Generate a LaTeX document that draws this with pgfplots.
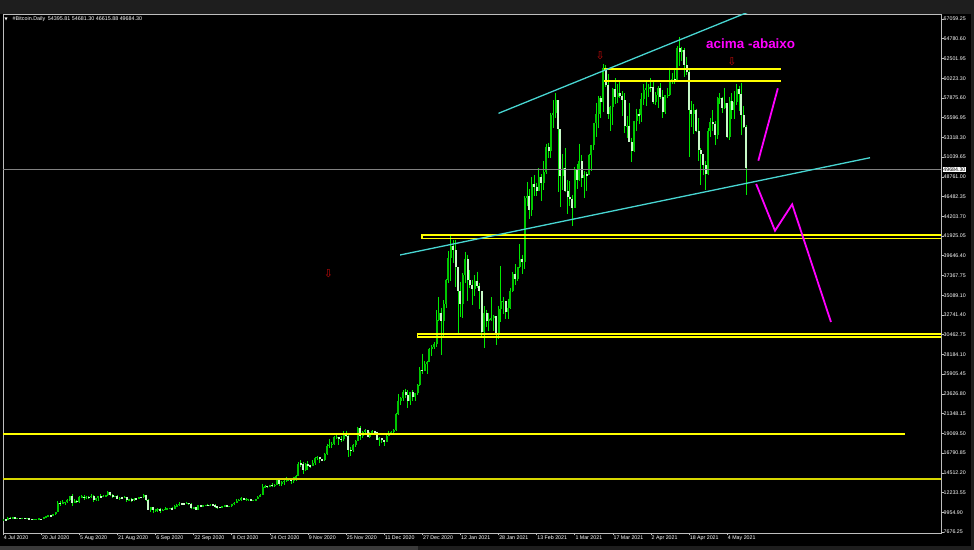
\documentclass[border=0pt]{standalone}
\usepackage{fontspec}
\setmainfont{Liberation Sans}
\newfontfamily\dejavu{DejaVu Sans}
\usepackage{pgfplots}
\usepackage{pgfplotstable}
\pgfplotsset{compat=1.18}

\definecolor{bgdark}{RGB}{30,30,30}
\definecolor{scroll}{RGB}{58,58,58}
\definecolor{framegray}{RGB}{190,190,190}
\definecolor{wick}{RGB}{0,235,0}
\definecolor{bull}{RGB}{0,200,0}
\definecolor{bear}{RGB}{200,250,200}
\definecolor{turq}{RGB}{72,214,210}
\definecolor{ylw}{RGB}{255,255,0}
\definecolor{ylwdark}{RGB}{215,215,0}
\definecolor{mag}{RGB}{255,0,255}
\definecolor{arrowred}{RGB}{190,10,10}
\definecolor{pricegray}{RGB}{130,130,130}

% daily OHLC, thousands of USD, day 0 = 4 Jul 2020
\pgfplotstableread{
o h l c
9.07 9.19 9.05 9.13
9.13 9.14 8.98 9.08
9.08 9.36 9.06 9.34
9.34 9.36 9.22 9.25
9.25 9.46 9.24 9.43
9.43 9.44 9.15 9.23
9.23 9.31 9.13 9.29
9.29 9.30 9.20 9.24
9.24 9.34 9.18 9.30
9.30 9.34 9.20 9.24
9.24 9.28 9.13 9.25
9.25 9.27 9.18 9.20
9.20 9.21 9.09 9.13
9.13 9.18 9.09 9.15
9.15 9.19 9.12 9.17
9.17 9.24 9.11 9.21
9.21 9.22 9.13 9.16
9.16 9.42 9.15 9.39
9.39 9.54 9.27 9.53
9.53 9.65 9.47 9.61
9.61 9.64 9.50 9.55
9.55 9.73 9.54 9.71
9.71 10.04 9.69 9.93
9.93 11.24 9.93 11.03
11.03 11.20 10.64 10.94
10.94 11.34 10.86 11.10
11.10 11.17 10.84 11.11
11.11 11.45 10.98 11.35
11.35 11.86 11.23 11.80
11.80 12.03 10.65 11.07
11.07 11.47 11.01 11.23
11.23 11.40 11.01 11.19
11.19 11.78 11.08 11.74
11.74 11.90 11.60 11.77
11.77 11.91 11.39 11.60
11.60 11.80 11.54 11.75
11.75 11.81 11.53 11.68
11.68 12.07 11.66 11.88
11.88 11.93 11.15 11.41
11.41 11.65 11.24 11.58
11.58 11.80 11.28 11.78
11.78 12.01 11.69 11.77
11.77 11.98 11.70 11.86
11.86 11.93 11.69 11.91
11.91 12.36 11.81 12.25
12.25 12.30 11.86 11.99
11.99 12.03 11.58 11.76
11.76 11.89 11.68 11.88
11.88 11.90 11.48 11.50
11.50 11.69 11.37 11.66
11.66 11.72 11.53 11.65
11.65 11.81 11.60 11.75
11.75 11.76 11.17 11.32
11.32 11.53 11.29 11.46
11.46 11.57 11.19 11.32
11.32 11.55 11.30 11.54
11.54 11.58 11.44 11.50
11.50 11.72 11.48 11.71
11.71 11.76 11.60 11.68
11.68 12.07 11.58 11.97
11.97 11.99 11.21 11.41
11.41 11.46 10.18 10.25
10.25 10.61 9.98 10.51
10.51 10.57 9.88 10.17
10.17 10.35 10.03 10.28
10.28 10.40 9.94 10.37
10.37 10.44 9.89 10.13
10.13 10.35 10.08 10.24
10.24 10.51 10.22 10.36
10.36 10.41 10.20 10.40
10.40 10.48 10.36 10.44
10.44 10.58 10.22 10.33
10.33 10.80 10.28 10.68
10.68 10.94 10.63 10.79
10.79 11.10 10.69 10.95
10.95 11.04 10.75 10.94
10.94 11.03 10.82 10.93
10.93 11.18 10.89 11.08
11.08 11.08 10.81 10.92
10.92 10.99 10.37 10.42
10.42 10.57 10.36 10.54
10.54 10.55 10.17 10.24
10.24 10.77 10.23 10.74
10.74 10.76 10.58 10.69
10.69 10.79 10.67 10.73
10.73 10.80 10.64 10.77
10.77 10.95 10.65 10.71
10.71 10.86 10.67 10.84
10.84 10.85 10.70 10.78
10.78 10.90 10.44 10.62
10.62 10.63 10.37 10.57
10.57 10.60 10.50 10.55
10.55 10.69 10.52 10.67
10.67 10.80 10.64 10.79
10.79 10.80 10.53 10.60
10.60 10.68 10.57 10.67
10.67 10.94 10.53 10.92
10.92 11.10 10.84 11.06
11.06 11.48 11.05 11.30
11.30 11.44 11.28 11.38
11.38 11.70 11.21 11.56
11.56 11.56 11.32 11.43
11.43 11.55 11.30 11.43
11.43 11.54 11.27 11.50
11.50 11.54 11.22 11.32
11.32 11.39 11.30 11.36
11.36 11.49 11.35 11.48
11.48 11.80 11.45 11.74
11.74 12.01 11.70 11.92
11.92 13.18 11.90 12.82
12.82 13.16 12.72 12.97
12.97 13.02 12.75 12.93
12.93 13.15 12.89 13.11
13.11 13.33 12.91 13.03
13.03 13.23 12.82 13.07
13.07 13.76 13.06 13.65
13.65 13.86 12.95 13.27
13.27 13.61 12.98 13.46
13.46 13.68 13.13 13.56
13.56 14.07 13.45 13.80
13.80 13.87 13.62 13.76
13.76 13.82 13.24 13.55
13.55 14.07 13.29 14.03
14.03 14.24 13.53 14.13
14.13 15.74 14.10 15.58
15.58 15.96 15.20 15.57
15.57 15.76 14.42 14.83
14.83 15.65 14.72 15.48
15.48 15.82 14.83 15.33
15.33 15.46 15.07 15.31
15.31 15.94 15.28 15.70
15.70 16.32 15.44 16.28
16.28 16.46 15.99 16.32
16.32 16.33 15.69 16.07
16.07 16.14 15.87 15.96
15.96 16.85 15.93 16.72
16.72 17.80 16.56 17.65
17.65 18.39 17.33 17.78
17.78 18.11 17.41 17.82
17.82 18.79 17.76 18.62
18.62 18.94 18.36 18.68
18.68 18.70 17.68 18.37
18.37 18.77 18.02 18.36
18.36 19.35 18.13 19.11
19.11 19.39 18.59 18.73
18.73 18.92 16.33 17.15
17.15 17.44 16.45 17.14
17.14 17.85 16.89 17.72
17.72 18.28 17.54 18.18
18.18 19.75 18.17 19.63
19.63 19.92 18.32 18.80
18.80 19.31 18.52 19.22
19.22 19.57 18.93 19.45
19.45 19.51 18.63 18.70
18.70 19.17 18.57 19.15
19.15 19.41 18.92 19.36
19.36 19.39 18.90 19.17
19.17 19.28 18.25 18.32
18.32 18.63 17.66 18.55
18.55 18.56 17.96 18.26
18.26 18.27 17.62 18.04
18.04 18.92 18.03 18.80
18.80 19.38 18.73 19.14
19.14 19.30 19.00 19.25
19.25 19.52 19.08 19.44
19.44 21.46 19.30 21.31
21.31 23.64 21.23 22.80
22.80 23.24 22.37 23.14
23.14 24.09 22.80 23.87
23.87 24.23 23.11 23.48
23.48 24.10 22.02 22.75
22.75 23.82 22.40 23.82
23.82 24.06 22.75 23.24
23.24 23.77 22.75 23.73
23.73 24.75 23.45 24.71
24.71 26.72 24.52 26.44
26.44 28.29 25.92 26.27
26.27 27.39 26.23 27.08
27.08 27.37 25.92 27.36
27.36 28.94 27.36 28.84
28.84 29.30 28.04 29.00
29.00 29.60 28.80 29.37
29.37 33.30 29.00 32.13
32.13 34.78 32.05 33.00
33.00 33.60 28.13 31.99
31.99 34.44 30.22 33.99
33.99 36.88 33.51 36.82
36.82 40.18 36.46 39.37
39.37 41.95 36.64 40.67
40.67 41.38 38.72 40.24
40.24 41.42 35.98 38.24
38.24 38.26 30.42 35.54
35.54 36.57 32.53 34.01
34.01 37.60 32.43 37.39
37.39 40.05 36.40 39.15
39.15 39.70 34.41 36.82
36.82 37.90 35.82 36.18
36.18 36.81 33.85 35.79
35.79 37.30 34.88 36.63
36.63 37.75 35.87 36.07
36.07 36.40 33.40 35.54
35.54 35.55 30.07 30.82
30.82 33.80 28.95 33.01
33.01 33.36 31.39 32.10
32.10 32.94 30.90 32.29
32.29 34.80 32.06 32.37
32.37 32.79 30.84 32.57
32.57 32.57 29.24 30.43
30.43 33.78 30.02 33.47
33.47 38.40 31.97 34.32
34.32 34.83 32.81 34.32
34.32 34.36 32.30 33.11
33.11 34.64 32.30 33.54
33.54 35.90 33.43 35.51
35.51 37.66 35.39 37.47
37.47 38.59 36.16 36.93
36.93 38.23 36.67 38.30
38.30 40.95 38.22 39.24
39.24 39.70 37.45 38.90
38.90 46.50 38.05 46.20
46.20 48.12 45.35 46.48
46.48 47.25 43.82 44.92
44.92 48.63 44.13 47.91
47.91 48.88 46.44 47.50
47.50 48.03 46.47 47.11
47.11 49.71 47.05 48.72
48.72 49.00 45.91 47.94
47.94 50.55 47.20 49.20
49.20 52.52 48.99 52.15
52.15 52.55 50.90 51.68
51.68 56.10 50.88 55.89
55.89 57.51 54.31 56.10
56.10 58.35 55.52 57.54
57.54 57.54 46.97 54.21
54.21 54.21 45.16 48.82
48.82 51.29 47.21 49.71
49.71 52.04 46.91 47.08
47.08 48.37 44.45 46.34
46.34 48.25 45.32 46.19
46.19 46.60 43.02 45.14
45.14 49.78 45.12 49.63
49.63 50.13 47.27 48.38
48.38 52.53 48.27 50.54
50.54 51.27 47.52 48.56
48.56 49.39 46.30 48.93
48.93 49.20 47.11 48.91
48.91 51.38 48.92 51.21
51.21 52.40 49.35 52.38
52.38 54.90 51.82 54.88
54.88 57.26 53.29 55.97
55.97 58.05 54.33 57.80
57.80 58.07 55.51 57.33
57.33 61.68 56.19 61.24
61.24 61.60 59.07 59.34
59.34 60.54 55.41 55.91
55.91 56.93 53.95 56.80
56.80 58.96 54.64 58.87
58.87 60.07 57.07 57.86
57.86 59.47 57.17 58.35
58.35 59.88 57.83 58.07
58.07 58.55 55.77 57.56
57.56 58.37 53.78 54.53
54.53 55.74 53.16 54.57
54.57 57.17 52.66 52.69
52.69 53.23 50.43 51.70
51.70 55.14 51.60 55.14
55.14 56.57 53.98 55.98
55.98 56.56 54.74 55.78
55.78 58.36 55.00 57.63
57.63 59.37 57.02 58.77
58.77 59.80 56.87 58.92
58.92 59.46 57.94 59.10
59.10 60.11 58.53 59.04
59.04 59.80 57.08 57.35
57.35 58.49 56.96 58.18
58.18 59.13 56.70 59.00
59.00 59.48 57.64 57.96
57.96 58.67 55.49 56.18
56.18 58.14 55.97 58.12
58.12 58.94 57.77 58.17
58.17 61.30 58.07 59.69
59.69 60.69 59.40 60.00
60.00 61.20 59.43 59.79
59.79 63.76 59.79 63.54
63.54 64.86 61.55 63.10
63.10 63.73 62.09 63.31
63.31 63.59 60.22 61.57
61.57 62.57 60.46 60.80
60.80 61.11 50.93 56.45
56.45 57.47 54.49 55.98
55.98 57.07 53.66 56.44
56.44 56.58 53.88 54.03
54.03 55.49 50.58 51.74
51.74 52.00 47.76 51.31
51.31 51.34 48.88 50.10
50.10 50.47 47.16 49.01
49.01 54.33 48.88 54.02
54.02 55.44 53.33 55.03
55.03 56.39 54.02 54.82
54.82 55.17 52.38 53.57
53.57 57.92 53.11 57.75
57.75 58.40 57.05 57.83
57.83 57.91 56.07 56.63
56.63 58.95 56.48 57.21
57.21 57.21 53.21 53.24
53.24 57.91 52.97 57.47
57.47 58.36 55.38 56.43
56.43 58.62 55.38 57.37
57.37 59.46 56.97 58.84
58.84 59.21 56.33 58.23
58.23 59.58 53.51 55.86
55.86 56.87 54.37 54.40
54.40 54.68 46.62 49.68
}\candles

\begin{document}
\begin{tikzpicture}
\useasboundingbox (0,0) rectangle (974bp,550bp);
\fill[bgdark] (0,0) rectangle (974bp,550bp);
\fill[scroll] (0,0) rectangle (418bp,4bp);
\fill[black] (0,4bp) rectangle (971bp,536bp);
\begin{axis}[
    at={(3bp,17bp)}, anchor=south west,
    width=938bp, height=519bp, scale only axis,
    xmin=-0.05, xmax=393.8, ymin=7.5608, ymax=67.50,
    axis background/.style={fill=black},
    axis line style={draw=framegray, line width=0.8bp},
    tick align=outside,
    major tick length=2.5bp,
    tick style={draw=framegray, line width=0.6bp},
    xtick pos=left, ytick pos=right, yticklabel pos=right,
    xtick={0,16,...,304},
    xticklabels={4 Jul 2020,20 Jul 2020,5 Aug 2020,21 Aug 2020,6 Sep 2020,22 Sep 2020,8 Oct 2020,24 Oct 2020,9 Nov 2020,25 Nov 2020,11 Dec 2020,27 Dec 2020,12 Jan 2021,28 Jan 2021,13 Feb 2021,1 Mar 2021,17 Mar 2021,2 Apr 2021,18 Apr 2021,4 May 2021},
    ytick={7.67625,9.9549,12.23355,14.5122,16.79085,19.0695,21.34815,23.6268,25.90545,28.1841,30.46275,32.7414,35.02005,37.2987,39.57735,41.856,44.13465,46.4133,48.69195,50.9706,53.24925,55.5279,57.80655,60.0852,62.36385,64.6425,66.92115},
    yticklabels={7676.25,9954.90,12233.55,14512.20,16790.85,19069.50,21348.15,23626.80,25905.45,28184.10,30462.75,32741.40,35089.10,37367.75,39646.40,41925.05,44203.70,46482.35,48761.00,51039.65,53318.30,55596.95,57875.60,60223.30,62501.95,64780.60,67059.25},
    ticklabel style={font=\fontsize{5.3}{6}\selectfont, text=white},
    xticklabel style={anchor=north west, inner sep=0pt, xshift=0.6bp},
    yticklabel style={anchor=west, inner sep=0pt},
    /pgf/number format/assume math mode=true,
]
% wicks
\addplot[draw=none, forget plot, error bars/.cd, y dir=minus, y explicit,
    error mark=none, error bar style={draw=wick, line width=1bp}]
    table[x expr=\coordindex, y=h, y error expr=\thisrow{h}-\thisrow{l}] {\candles};
% bull bodies
\addplot[draw=none, forget plot, unbounded coords=discard, error bars/.cd, y dir=both, y explicit,
    error mark=none, error bar style={draw=bull, line width=2bp}]
    table[x expr=\coordindex,
          y expr={\thisrow{c}>=\thisrow{o} ? (\thisrow{o}+\thisrow{c})/2 : nan},
          y error expr={max(abs(\thisrow{c}-\thisrow{o})/2,0.05)}] {\candles};
% bear bodies
\addplot[draw=none, forget plot, unbounded coords=discard, error bars/.cd, y dir=both, y explicit,
    error mark=none, error bar style={draw=bear, line width=2bp}]
    table[x expr=\coordindex,
          y expr={\thisrow{c}<\thisrow{o} ? (\thisrow{o}+\thisrow{c})/2 : nan},
          y error expr={max(abs(\thisrow{c}-\thisrow{o})/2,0.05)}] {\candles};

% current price line
\addplot[pricegray, line width=0.7bp] coordinates {(0,49.54) (400,49.54)};
% horizontal levels
\addplot[ylw, line width=2bp] coordinates {(0,19.05) (378.7,19.05)};
\addplot[ylwdark, line width=2bp] coordinates {(0,13.83) (400,13.83)};
\addplot[ylw, line width=1.5bp] coordinates {(400,41.98) (175.8,41.98) (175.8,41.60) (400,41.60)};
\addplot[ylw, line width=1.8bp] coordinates {(400,30.51) (174.0,30.51) (174.0,30.16) (400,30.16)};
\addplot[ylw, line width=1.8bp] coordinates {(252.3,61.11) (326.5,61.11)};
\addplot[ylw, line width=1.8bp] coordinates {(252.3,59.76) (326.5,59.76)};
% channel lines
\addplot[turq, line width=1.3bp] coordinates {(208.0,56.03) (317.8,68.27)};
\addplot[turq, line width=1.3bp] coordinates {(166.7,39.67) (364.0,50.90)};
% projection
\addplot[mag, line width=1.8bp] coordinates {(317.1,50.56) (325.3,58.92)};
\addplot[mag, line width=1.8bp] coordinates {(316.2,47.87) (324.1,42.47) (331.3,45.52) (347.6,31.93)};

\node[text=mag, font=\fontsize{13.5}{14}\selectfont\bfseries] at (axis cs:313.9,64.03) {acima -abaixo};
\node[text=arrowred, font=\dejavu\fontsize{11}{11}\selectfont, inner sep=0pt] at (axis cs:250.7,62.65) {⇩};
\node[text=arrowred, font=\dejavu\fontsize{11}{11}\selectfont, inner sep=0pt] at (axis cs:306.0,61.99) {⇩};
\node[text=arrowred, font=\dejavu\fontsize{11}{11}\selectfont, inner sep=0pt] at (axis cs:136.6,37.55) {⇩};
\end{axis}
% header and price tag
\node[anchor=west, inner sep=0pt, text=white, font=\dejavu\fontsize{4}{4}\selectfont] at (4.5bp,530.5bp) {▼};
\node[anchor=west, inner sep=0pt, text=white, font=\fontsize{5.4}{6}\selectfont] at (12.5bp,530.5bp) {\#Bitcoin.Daily\enspace 54395.81 54681.30 46615.88 49684.30};
\node[anchor=west, fill=white, text=black, inner sep=0.7bp, font=\fontsize{5.3}{6}\selectfont] at (942.5bp,380.5bp) {49684.30};
\end{tikzpicture}
\end{document}
